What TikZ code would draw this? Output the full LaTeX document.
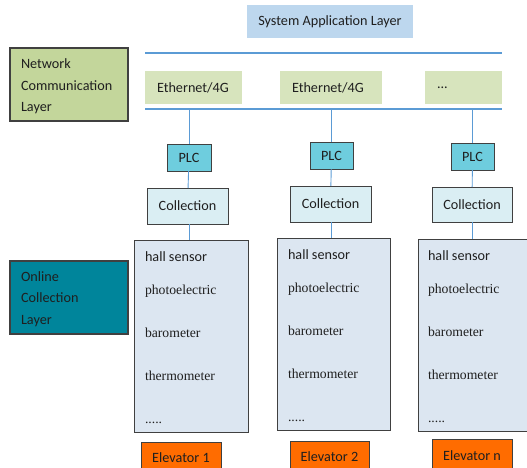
\documentclass[tikz,border=0pt]{standalone}
\usepackage{fontspec}
\setmainfont{Carlito}
\newfontfamily\serifnames{Liberation Serif}
\definecolor{appblue}{HTML}{BDD7EE}
\definecolor{netgreen}{HTML}{C3D69B}
\definecolor{ethgreen}{HTML}{D7E4BD}
\definecolor{plccyan}{HTML}{6ECDDE}
\definecolor{collcyan}{HTML}{DAEEF3}
\definecolor{sensorblue}{HTML}{DCE6F1}
\definecolor{onlineteal}{HTML}{00859B}
\definecolor{elevorange}{HTML}{FF6C00}
\definecolor{busblue}{HTML}{5B9BD5}
\definecolor{edgegray}{HTML}{404040}
\definecolor{inkdark}{HTML}{1F1F1F}
\begin{document}
\begin{tikzpicture}[x=1pt,y=-1pt,
  every node/.style={inner sep=0pt, outer sep=0pt, text=inkdark,
    font=\fontsize{14.2}{17}\selectfont},
  plain/.style={draw=none, anchor=center},
  framed/.style={draw=edgegray, line width=1pt, anchor=center},
  layerbox/.style={framed, line width=1.2pt, minimum width=118pt, minimum height=73pt},
  layertext/.style={anchor=west, align=left, font=\fontsize{14.2}{21.5}\selectfont},
  ethbox/.style={plain, fill=ethgreen, minimum height=33pt, align=left, inner xsep=12pt},
  plcbox/.style={framed, fill=plccyan, minimum width=44pt, minimum height=27pt},
  collbox/.style={framed, fill=collcyan, minimum width=81pt, minimum height=36pt},
  sensorbox/.style={framed, fill=sensorblue, minimum height=192pt},
  sensortext/.style={anchor=base west, font=\serifnames\fontsize{13.7}{16}\selectfont},
  halltext/.style={anchor=base west},
  elevbox/.style={framed, fill=elevorange, minimum width=80pt},
  bus/.style={draw=busblue, line width=1.4pt},
  drop/.style={draw=busblue, line width=0.9pt}]
\useasboundingbox (0,0) rectangle (527,468);
\clip (0,0) rectangle (527,468);

% application layer
\node[plain, fill=appblue, minimum width=166pt, minimum height=33pt] (app) at (330,21.5) {System Application Layer};

% layer labels
\node[layerbox, fill=netgreen] (net) at (69,84.5) {};
\path (net.west) ++(11,2) node[layertext] (nettext) {Network\\Communication\\Layer};
\node[layerbox, fill=onlineteal] (online) at (69,297.5) {};
\path (online.west) ++(11,1.5) node[layertext] (onlinetext) {Online\\Collection\\Layer};

% network buses
\coordinate (busTopL) at (145,53);
\coordinate (busTopR) at (502,53);
\coordinate (busLowL) at (145,109);
\coordinate (busLowR) at (502,109);
\draw[bus] (busTopL) -- (busTopR);
\draw[bus] (busLowL) -- (busLowR);

% network links
\node[ethbox, text width=73pt] (eth1) at (193.5,87.5) {Ethernet/4G};
\node[ethbox, text width=78pt] (eth2) at (331,87.5) {Ethernet/4G};
\node[ethbox, text width=53pt] (eth3) at (463.5,87.5) {...};

% PLC units
\node[plcbox] (plc1) at (189,157.5) {PLC};
\node[plcbox, minimum width=43pt] (plc2) at (331.5,155.5) {PLC};
\node[plcbox, minimum width=43pt] (plc3) at (472.5,156.5) {PLC};

% collection units
\node[collbox] (coll1) at (187.5,206) {Collection};
\node[collbox] (coll2) at (330.5,204) {Collection};
\node[collbox, minimum width=80pt, minimum height=35pt] (coll3) at (472,204.5) {Collection};

% sensor groups
\node[sensorbox, minimum width=114pt] (sens1) at (191,336) {};
\node[sensorbox, minimum width=113pt] (sens2) at (333.5,334) {};
\node[sensorbox, minimum width=118pt] (sens3) at (477,335) {};

\foreach \s/\dx in {sens1/11, sens2/11, sens3/10} {
  \path (\s.north west) ++(\dx,21.5) node[halltext] {hall sensor};
  \path (\s.north west) ++(\dx,54.5) node[sensortext] {photoelectric};
  \path (\s.north west) ++(\dx,97.5) node[sensortext] {barometer};
  \path (\s.north west) ++(\dx,140.5) node[sensortext] {thermometer};
  \path (\s.north west) ++(\dx,183.5) node[sensortext] {.....};
}

% elevators
\node[elevbox, minimum height=32pt] (elev1) at (181,458) {Elevator 1};
\node[elevbox, minimum width=79pt, minimum height=32pt] (elev2) at (329.5,457) {Elevator 2};
\node[elevbox, minimum height=34pt] (elev3) at (472,456) {Elevator n};

% vertical connectors
\draw[drop] (busLowL -| plc1) -- (plc1.north);
\draw[drop] (busLowL -| plc2) -- (plc2.north);
\draw[drop] (busLowL -| plc3) -- (plc3.north);
\draw[drop] (plc1) -- (coll1);
\draw[drop] (plc2) -- (coll2);
\draw[drop] (plc3) -- (coll3);
\draw[drop] (coll1.south -| plc1) -- (sens1.north -| plc1);
\draw[drop] (coll2.south -| plc2) -- (sens2.north -| plc2);
\draw[drop] (coll3.south -| plc3) -- (sens3.north -| plc3);
\end{tikzpicture}
\end{document}
